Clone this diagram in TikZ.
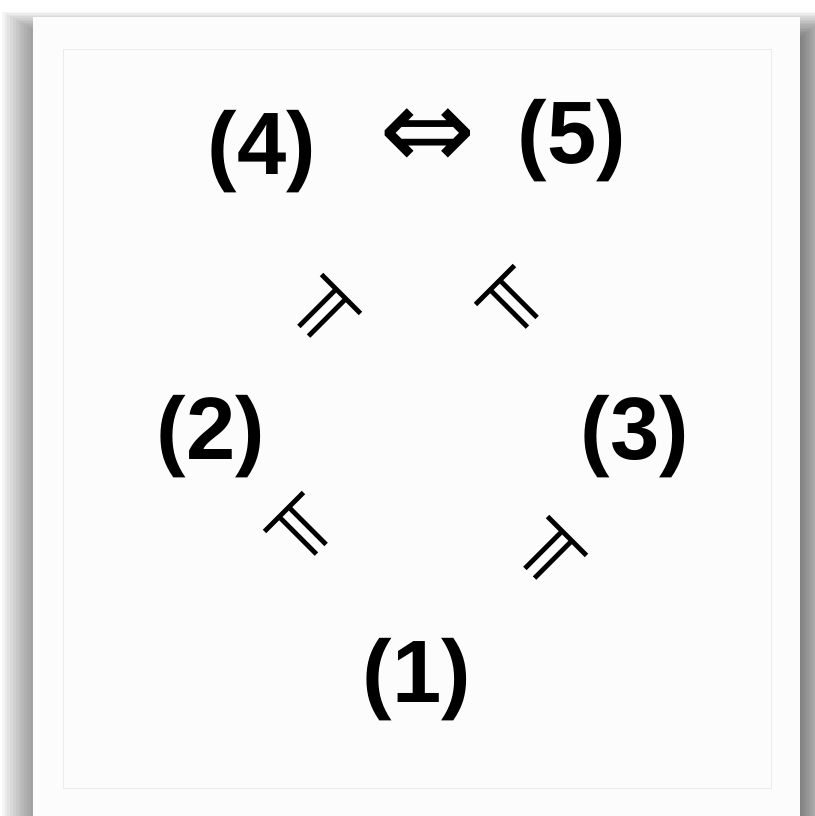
\documentclass[tikz,border=0pt]{standalone}
\usepackage{fontspec}
\setmainfont{Liberation Sans}
\newfontfamily\symfont{DejaVu Sans}
\usetikzlibrary{positioning}

\tikzset{
  lbl/.style={font=\fontsize{63}{76}\selectfont\bfseries, inner sep=0pt},
  ent/.style={font=\symfont\fontsize{56}{66}\selectfont, inner sep=0pt},
  iff/.style={font=\symfont\fontsize{82}{92}\selectfont, inner sep=0pt},
}

\begin{document}
\begin{tikzpicture}[x=0.025cm,y=-0.025cm]
  \useasboundingbox (0,0) rectangle (815,816);

  % soft shadow behind the card
  \foreach \k in {0,...,19} {
    \fill[black,opacity=0.04] (55-2.8*\k,42-1.6*\k) rectangle (795+2*\k,840);
  }

  % card and inner frame
  \fill[white!99!black] (33,17) rectangle (800,840);
  \draw[black!8,line width=0.4pt] (63.5,49) rectangle (771,788);

  % formulas
  \node[lbl] (f4) at (262,152) {(4)};
  \node[lbl] (f5) at (572,141) {(5)};
  \node[lbl] (f2) at (211,437) {(2)};
  \node[lbl] (f3) at (635,437) {(3)};
  \node[lbl] (f1) at (417,680) {(1)};

  \node[iff] (eq) at (428,139) {⇔};

  % entailments
  \node[ent,rotate=225] (e42) at (324,312) {⊨};
  \node[ent,rotate=-45] (e53) at (513,303) {⊨};
  \node[ent,rotate=-45] (e21) at (302,530) {⊨};
  \node[ent,rotate=225] (e31) at (550,554) {⊨};
\end{tikzpicture}
\end{document}
